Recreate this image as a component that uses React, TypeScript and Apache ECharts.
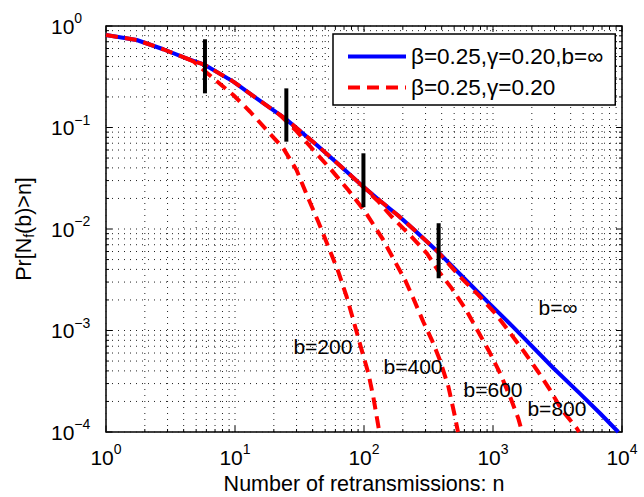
import React, { useEffect, useRef } from 'react';
import * as echarts from 'echarts';

const FONT = '"Liberation Sans", Arial, Helvetica, sans-serif';
const BLUE_NAME = 'β=0.25,γ=0.20,b=∞';
const RED_NAME = 'β=0.25,γ=0.20';

const X_MIN = 1;
const X_MAX = 10000;
const Y_MIN = 0.0001;
const Y_MAX = 1;

// b = infinity (blue, solid)
const blueN = [1, 1.73, 2.78, 4.2, 5.85, 9.7, 14.7, 24.4, 43, 65, 99, 133, 185, 241, 377, 589, 948, 1437, 2933, 4725, 6750, 9360];
const blueP = [0.815, 0.728, 0.59, 0.48, 0.413, 0.283, 0.194, 0.123, 0.0673, 0.0422, 0.026, 0.019, 0.0135, 0.01, 0.0059, 0.00333, 0.00182, 0.00108, 0.000427, 0.000239, 0.000153, 0.0001];

// finite buffers (red, dashed)
const b200N = [4.2, 4.8, 6.79, 9.7, 13.1, 17.6, 23.7, 30, 37, 44.2, 52.9, 63.2, 73.4, 82.6, 96, 108, 118, 131.5];
const b200P = [0.48, 0.445, 0.305, 0.209, 0.143, 0.0945, 0.0624, 0.0381, 0.02, 0.0118, 0.0067, 0.0038, 0.00215, 0.00127, 0.00064, 0.00038, 0.000223, 0.0001];

const b400N = [22, 30, 40.5, 56, 75.5, 102, 141, 174, 208, 241, 288, 335, 388, 451, 507, 535];
const b400P = [0.135, 0.092, 0.06, 0.038, 0.0242, 0.0148, 0.0078, 0.00476, 0.00315, 0.00208, 0.00122, 0.00081, 0.00051, 0.00028, 0.000142, 0.0001];

const b600N = [90, 130, 164, 227, 306, 375, 479, 607, 769, 948, 1133, 1355, 1571, 1680];
const b600P = [0.029, 0.0185, 0.0132, 0.0087, 0.0058, 0.0039, 0.0026, 0.00166, 0.00097, 0.0006, 0.00038, 0.000223, 0.000136, 0.0001];

const b800TailN = [555, 769, 1037, 1277, 1770, 2245, 2767, 3410, 4460, 4650];
const b800TailP = [0.00339, 0.00224, 0.00148, 0.00105, 0.0006, 0.00039, 0.00026, 0.000165, 0.000109, 0.0001];
const b800BranchN = 377;

// black vertical markers
const markerN = [5.85, 25, 99, 379];
const markerTopP = [0.74, 0.243, 0.0557, 0.0114];
const markerBotP = [0.217, 0.0725, 0.0164, 0.00327];

// text annotations
const annotText = ['b=∞', 'b=200', 'b=400', 'b=600', 'b=800'];
const annotN = [3190, 48, 240, 1000, 3130];
const annotP = [0.0017, 0.00069, 0.00044, 0.00026, 0.00017];

// grid / tick positions
const minorMult = [1, 2, 3, 4, 5, 6, 7, 8, 9];
const xDecades = [1, 10, 100, 1000];
const yDecades = [0.0001, 0.001, 0.01, 0.1];

const zip = (a: number[], b: number[]) => a.map((v, i) => [v, b[i]]);

function expLabel(v: number) {
  const e = Math.round(Math.log10(v));
  const s = e < 0 ? '−' + Math.abs(e) : String(e);
  return `{b|10}{s|${s}}`;
}

const labelRich = {
  b: { fontSize: 21, fontFamily: FONT, color: '#000', lineHeight: 30 },
  s: { fontSize: 14, fontFamily: FONT, color: '#000', lineHeight: 14, verticalAlign: 'top' },
};

export default function App() {
  const ref = useRef<HTMLDivElement>(null);
  useEffect(() => {
    const chart = echarts.init(ref.current!, null, { renderer: 'svg' });

    const xGrid: number[] = [];
    xDecades.forEach((d) => minorMult.forEach((m) => xGrid.push(m * d)));
    xGrid.push(X_MAX);
    const yGrid: number[] = [];
    yDecades.forEach((d) => minorMult.forEach((m) => yGrid.push(m * d)));
    yGrid.push(Y_MAX);

    const isMajor = (v: number) => Math.abs(Math.log10(v) - Math.round(Math.log10(v))) < 1e-6;

    const blueData = zip(blueN, blueP);
    const b800Data = blueData.filter((d) => d[0] <= b800BranchN).concat(zip(b800TailN, b800TailP));

    const redStyle = { color: '#ff0000', width: 4, type: [12, 7] as any };

    const markerSeries = markerN.map((n, i) => ({
      type: 'line',
      name: 'marker' + i,
      data: [[n, markerTopP[i]], [n, markerBotP[i]]],
      symbol: 'none',
      silent: true,
      z: 6,
      lineStyle: { color: '#000', width: 4 },
    }));

    const option: any = {
      animation: false,
      grid: {
        left: 106,
        right: 22,
        top: 26,
        bottom: 65,
        show: true,
        borderColor: '#000',
        borderWidth: 1.5,
        backgroundColor: '#fff',
        outerBoundsMode: 'none',
      },
      legend: {
        data: [BLUE_NAME, RED_NAME],
        orient: 'vertical',
        left: 333,
        top: 34,
        itemWidth: 58,
        itemHeight: 14,
        itemGap: 8,
        backgroundColor: '#fff',
        borderColor: '#000',
        borderWidth: 1.5,
        borderRadius: 0,
        padding: [11, 12, 6, 13],
        selectedMode: false,
        itemStyle: { opacity: 0 },
        lineStyle: { width: 4 },
        textStyle: { fontSize: 22.5, fontFamily: FONT, color: '#000', lineHeight: 22 },
        z: 10,
      },
      xAxis: {
        type: 'log',
        logBase: 10,
        min: X_MIN,
        max: X_MAX,
        axisLine: { show: false },
        axisTick: { show: false },
        splitLine: { show: false },
        axisLabel: { formatter: expLabel, rich: labelRich, margin: 10 },
        name: 'Number of retransmissions: n',
        nameLocation: 'middle',
        nameGap: 41,
        nameTextStyle: { fontSize: 21.5, fontFamily: FONT, color: '#000' },
      },
      yAxis: {
        type: 'log',
        logBase: 10,
        min: Y_MIN,
        max: Y_MAX,
        axisLine: { show: false },
        axisTick: { show: false },
        splitLine: { show: false },
        axisLabel: { formatter: expLabel, rich: labelRich, margin: 55, align: 'left' },
        name: '{a|Pr[N}{s|f}{a|(b)>n]}',
        nameLocation: 'middle',
        nameGap: 70,
        nameTextStyle: {
          rich: {
            a: { fontSize: 21.5, fontFamily: FONT, color: '#000', lineHeight: 24 },
            s: { fontSize: 14, fontFamily: FONT, color: '#000', lineHeight: 14, verticalAlign: 'bottom' },
          },
        },
      },
      series: [
        {
          type: 'custom',
          name: 'xgrid',
          silent: true,
          z: 1,
          data: xGrid.map((v) => [v, Y_MIN]),
          encode: { x: 0, y: 1 },
          renderItem: (params: any, api: any) => {
            const v = api.value(0);
            const b = api.coord([v, Y_MIN]);
            const t = api.coord([v, Y_MAX]);
            const L = isMajor(v) ? 6 : 3;
            return {
              type: 'group',
              children: [
                { type: 'line', shape: { x1: b[0], y1: b[1], x2: t[0], y2: t[1] }, style: { stroke: '#222', lineWidth: 1, lineDash: [1, 5] } },
                { type: 'line', shape: { x1: b[0], y1: b[1], x2: b[0], y2: b[1] - L }, style: { stroke: '#000', lineWidth: 1 } },
                { type: 'line', shape: { x1: t[0], y1: t[1], x2: t[0], y2: t[1] + L }, style: { stroke: '#000', lineWidth: 1 } },
              ],
            };
          },
        },
        {
          type: 'custom',
          name: 'ygrid',
          silent: true,
          z: 1,
          data: yGrid.map((v) => [X_MIN, v]),
          encode: { x: 0, y: 1 },
          renderItem: (params: any, api: any) => {
            const v = api.value(1);
            const l = api.coord([X_MIN, v]);
            const r = api.coord([X_MAX, v]);
            const L = isMajor(v) ? 6 : 3;
            return {
              type: 'group',
              children: [
                { type: 'line', shape: { x1: l[0], y1: l[1], x2: r[0], y2: r[1] }, style: { stroke: '#222', lineWidth: 1, lineDash: [1, 5] } },
                { type: 'line', shape: { x1: l[0], y1: l[1], x2: l[0] + L, y2: l[1] }, style: { stroke: '#000', lineWidth: 1 } },
                { type: 'line', shape: { x1: r[0], y1: r[1], x2: r[0] - L, y2: r[1] }, style: { stroke: '#000', lineWidth: 1 } },
              ],
            };
          },
        },
        {
          type: 'line',
          name: BLUE_NAME,
          data: blueData,
          symbol: 'none',
          z: 3,
          color: '#0000ff',
          lineStyle: { color: '#0000ff', width: 4 },
        },
        { type: 'line', name: RED_NAME, data: b800Data, symbol: 'none', z: 4, color: '#ff0000', lineStyle: redStyle },
        { type: 'line', name: RED_NAME, data: zip(b200N, b200P), symbol: 'none', z: 4, color: '#ff0000', lineStyle: redStyle },
        { type: 'line', name: RED_NAME, data: zip(b400N, b400P), symbol: 'none', z: 4, color: '#ff0000', lineStyle: redStyle },
        { type: 'line', name: RED_NAME, data: zip(b600N, b600P), symbol: 'none', z: 4, color: '#ff0000', lineStyle: redStyle },
        ...markerSeries,
        {
          type: 'scatter',
          name: 'annot',
          symbolSize: 0,
          silent: true,
          z: 7,
          itemStyle: { opacity: 1, color: '#000' },
          data: annotText.map((t, i) => ({ value: [annotN[i], annotP[i]], name: t })),
          label: { show: true, position: 'inside', formatter: '{b}', fontSize: 21, fontFamily: FONT, color: '#000', opacity: 1 },
        },
      ],
    };

    chart.setOption(option);
    return () => chart.dispose();
  }, []);
  return <div ref={ref} style={{ position: 'absolute', left: 0, top: 0, width: 644, height: 497 }} />;
}
